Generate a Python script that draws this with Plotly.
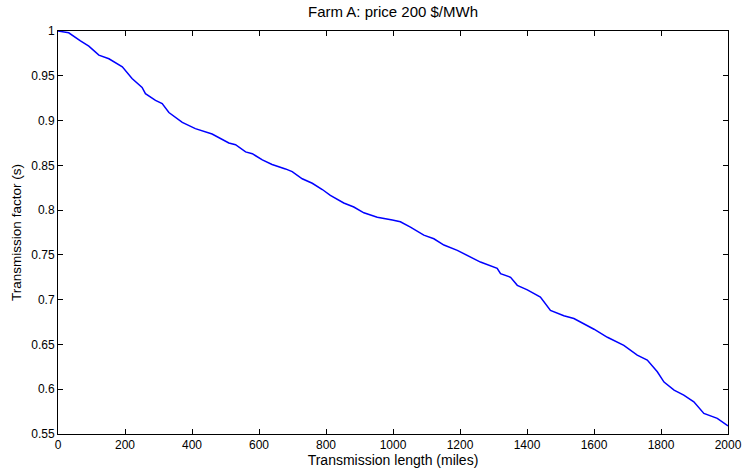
import plotly.graph_objects as go

# Transmission factor vs. transmission length, Farm A at 200 $/MWh
length_miles = [0, 32, 67, 92, 122, 152, 192, 221, 251, 261, 291, 311, 331, 371, 410,
                460, 510, 530, 560, 580, 610, 639, 679, 699, 729, 759, 789, 813, 853,
                883, 913, 953, 998, 1022, 1052, 1092, 1122, 1152, 1192, 1231, 1261,
                1311, 1321, 1351, 1371, 1401, 1440, 1470, 1510, 1540, 1600, 1640, 1689,
                1729, 1759, 1789, 1809, 1839, 1868, 1898, 1928, 1968, 2000]
factor = [1.0, 0.998, 0.989, 0.983, 0.973, 0.969, 0.960, 0.947, 0.937, 0.930, 0.9225,
          0.919, 0.909, 0.898, 0.891, 0.885, 0.875, 0.873, 0.865, 0.863, 0.856, 0.851,
          0.846, 0.843, 0.835, 0.830, 0.823, 0.8165, 0.808, 0.8035, 0.797, 0.792,
          0.789, 0.787, 0.781, 0.772, 0.768, 0.761, 0.755, 0.748, 0.742, 0.735, 0.729,
          0.725, 0.716, 0.711, 0.703, 0.688, 0.682, 0.679, 0.667, 0.658, 0.649, 0.638,
          0.6325, 0.6195, 0.608, 0.599, 0.5935, 0.586, 0.573, 0.5675, 0.559]

x_ticks = [0, 200, 400, 600, 800, 1000, 1200, 1400, 1600, 1800, 2000]
y_ticks = [0.55, 0.6, 0.65, 0.7, 0.75, 0.8, 0.85, 0.9, 0.95, 1.0]
y_tick_text = ["0.55", "0.6", "0.65", "0.7", "0.75", "0.8", "0.85", "0.9", "0.95", "1"]

FONT = "Liberation Sans, Arial, Helvetica, sans-serif"

fig = go.Figure()
fig.add_trace(go.Scatter(
    x=length_miles, y=factor, mode="lines",
    line=dict(color="#0000ff", width=1.5),
    showlegend=False,
))

axis_common = dict(
    automargin=False,
    showgrid=False, zeroline=False,
    showline=True, linecolor="black", linewidth=1,
    mirror="ticks", ticks="inside", ticklen=5, tickwidth=1, tickcolor="black",
    tickfont=dict(family=FONT, size=12, color="black"),
)

fig.update_layout(
    width=742, height=470,
    margin=dict(l=58, r=14, t=31, b=36, autoexpand=False),
    paper_bgcolor="white", plot_bgcolor="white",
    font=dict(family=FONT, color="black"),
    title=dict(text="Farm A: price 200 $/MWh", x=0.5, xref="paper",
               y=1 - 12 / 470, yref="container", yanchor="middle",
               font=dict(family=FONT, size=15, color="black")),
    xaxis=dict(range=[0, 2000], tickvals=x_ticks,
               title=dict(text="Transmission length (miles)", standoff=2,
                          font=dict(family=FONT, size=14)),
               **axis_common),
    yaxis=dict(range=[0.55, 1.0], tickvals=y_ticks, ticktext=y_tick_text,
               title=dict(text="Transmission factor (s)", standoff=6,
                          font=dict(family=FONT, size=13.5)),
               **axis_common),
)

fig.write_html("out.html")
